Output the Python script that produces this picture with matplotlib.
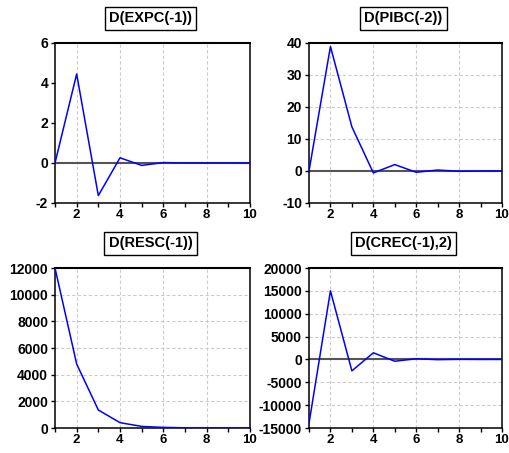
import matplotlib
matplotlib.use("Agg")
import matplotlib.pyplot as plt
from matplotlib.ticker import MultipleLocator, FixedLocator

plt.rcParams['font.family'] = ['Liberation Sans', 'DejaVu Sans']
plt.rcParams['axes.unicode_minus'] = False

periods = [1, 2, 3, 4, 5, 6, 7, 8, 9, 10]

titles = ["D(EXPC(-1))", "D(PIBC(-2))", "D(RESC(-1))", "D(CREC(-1),2)"]

expc = [0.0, 4.45, -1.63, 0.26, -0.12, 0.02, 0.0, 0.0, 0.0, 0.0]
pibc = [0.0, 38.9, 13.8, -0.6, 2.0, -0.4, 0.3, -0.1, 0.0, 0.0]
resc = [12000, 4800, 1350, 400, 120, 45, 15, 5, 2, 1]
crec = [-14000, 15000, -2500, 1450, -400, 150, -50, 20, -5, 0]

series = [expc, pibc, resc, crec]
ylims = [(-2, 6), (-10, 40), (0, 12000), (-15000, 20000)]
ysteps = [2, 10, 2000, 5000]
hgrid = [False, True, True, True]

fig = plt.figure(figsize=(5.10, 4.53), dpi=100)
fig.patch.set_facecolor('white')

W, H = 510.0, 453.0
boxes = [(55, 43, 250, 203), (309, 43, 502, 203), (55, 268, 250, 428), (309, 268, 502, 428)]

for i in range(4):
    l, t, r, b = boxes[i]
    ax = fig.add_axes([l / W, 1 - b / H, (r - l) / W, (b - t) / H])
    ax.set_xlim(1, 10)
    ax.set_ylim(*ylims[i])
    ax.xaxis.set_major_locator(FixedLocator([2, 4, 6, 8, 10]))
    ax.xaxis.set_minor_locator(FixedLocator([1, 3, 5, 7, 9]))
    ax.yaxis.set_major_locator(MultipleLocator(ysteps[i]))
    for x in [2, 4, 6, 8]:
        ax.axvline(x, color='#cccccc', lw=0.8, ls=(0, (3, 2)), zorder=0)
    if hgrid[i]:
        lo, hi = ylims[i]
        y = lo + ysteps[i]
        while y < hi:
            if y != 0:
                ax.axhline(y, color='#cccccc', lw=0.8, ls=(0, (3, 2)), zorder=0)
            y += ysteps[i]
    if ylims[i][0] < 0:
        ax.axhline(0, color='#555555', lw=1.5, zorder=1)
    ax.plot(periods, series[i], color='#0000ff', lw=1.1, zorder=3)
    for s in ax.spines.values():
        s.set_linewidth(1.1)
        s.set_color('black')
    ax.spines['top'].set_linewidth(1.5)
    ax.tick_params(axis='both', which='major', direction='out', length=3, width=1,
                   labelsize=10, pad=2)
    ax.tick_params(axis='x', which='major', labelsize=9.5, pad=1)
    ax.tick_params(axis='x', which='minor', direction='out', length=3, width=1)
    for lab in ax.get_xticklabels() + ax.get_yticklabels():
        lab.set_fontweight('bold')
    ax.text(0.49, 1.155, titles[i], transform=ax.transAxes, ha='center', va='center',
            fontsize=10.5, fontweight='bold',
            bbox=dict(boxstyle='square,pad=0.3', fc='white', ec='black', lw=1.0))

fig.savefig('out.png', dpi=100)
